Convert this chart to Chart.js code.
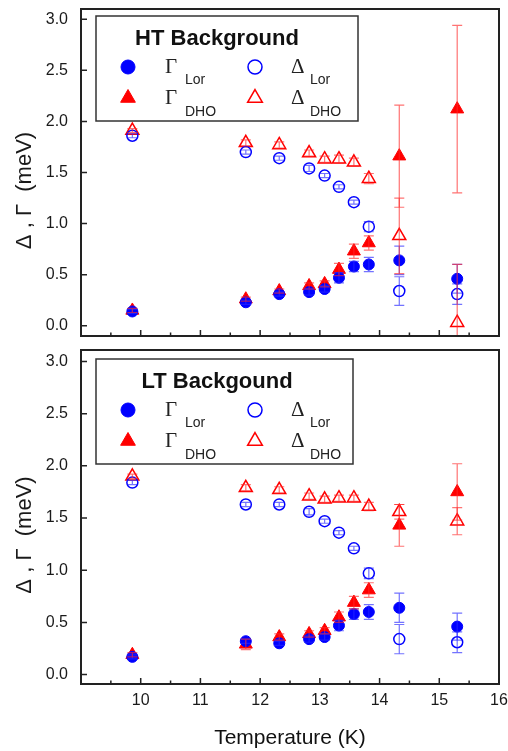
<!DOCTYPE html>
<html>
<head>
<meta charset="utf-8">
<script src="https://cdn.jsdelivr.net/npm/chart.js@4.4.1/dist/chart.umd.min.js"></script>
<style>
  html, body { margin: 0; padding: 0; background: #fff; }
  #wrap { position: relative; width: 508px; height: 751px; }
  canvas { position: absolute; left: 0; }
  #top { top: 0; }
  #bot { top: 341px; }
</style>
</head>
<body>
<div id="wrap">
  <canvas id="top" width="508" height="345"></canvas>
  <canvas id="bot" width="508" height="410"></canvas>
</div>
<script>
// temperatures (K), shared by both panels
const temps = [9.86, 11.76, 12.32, 12.82, 13.08, 13.32, 13.57, 13.82, 14.33, 15.30];

// HT background fits
const htGammaLor    = [0.14, 0.23, 0.31, 0.33, 0.36, 0.47, 0.58, 0.60, 0.64, 0.46];
const htGammaLorErr = [0.02, 0.02, 0.02, 0.03, 0.03, 0.05, 0.05, 0.07, 0.14, 0.14];
const htDeltaLor    = [1.86, 1.70, 1.64, 1.54, 1.47, 1.36, 1.21, 0.97, 0.34, 0.31];
const htDeltaLorErr = [0.02, 0.02, 0.02, 0.03, 0.02, 0.02, 0.02, 0.05, 0.14, 0.10];
const htGammaDho    = [0.15, 0.26, 0.34, 0.39, 0.41, 0.55, 0.73, 0.81, 1.66, 2.12];
const htGammaDhoErr = [0.02, 0.02, 0.02, 0.03, 0.03, 0.06, 0.07, 0.07, 0.50, 0.82];
const htDeltaDho    = [1.91, 1.79, 1.77, 1.69, 1.63, 1.63, 1.60, 1.44, 0.88, 0.03];
const htDeltaDhoErr = [0.02, 0.03, 0.03, 0.03, 0.03, 0.04, 0.04, 0.05, 0.37, 0.57];

// LT background fits
const ltGammaLor    = [0.17, 0.32, 0.30, 0.34, 0.36, 0.47, 0.58, 0.60, 0.64, 0.46];
const ltGammaLorErr = [0.02, 0.02, 0.02, 0.03, 0.03, 0.05, 0.05, 0.07, 0.14, 0.13];
const ltDeltaLor    = [1.84, 1.63, 1.63, 1.56, 1.47, 1.36, 1.21, 0.97, 0.34, 0.31];
const ltDeltaLorErr = [0.02, 0.02, 0.02, 0.03, 0.02, 0.02, 0.02, 0.05, 0.14, 0.10];
const ltGammaDho    = [0.19, 0.29, 0.36, 0.39, 0.42, 0.55, 0.69, 0.81, 1.43, 1.75];
const ltGammaDhoErr = [0.02, 0.05, 0.03, 0.03, 0.03, 0.05, 0.06, 0.07, 0.20, 0.27];
const ltDeltaDho    = [1.90, 1.79, 1.77, 1.71, 1.68, 1.69, 1.69, 1.61, 1.56, 1.47];
const ltDeltaDhoErr = [0.02, 0.03, 0.03, 0.03, 0.03, 0.03, 0.03, 0.04, 0.07, 0.13];

// ticks and labels
const xTickValues = [10, 11, 12, 13, 14, 15, 16];
const xMinorTicks = [9.5, 10.5, 11.5, 12.5, 13.5, 14.5, 15.5];
const yTickValues = [0, 0.5, 1.0, 1.5, 2.0, 2.5, 3.0];
const seriesSymbols = ['Γ', 'Δ', 'Γ', 'Δ'];
const seriesSubs = ['Lor', 'Lor', 'DHO', 'DHO'];

const BLUE = '#0000ff';
const RED = '#ff0000';
const SANS = '"Liberation Sans", Arial, sans-serif';
const SERIF = '"Liberation Serif", "Times New Roman", serif';

Chart.defaults.font.family = SANS;
Chart.defaults.color = '#1a1a1a';

const pts = (ys) => temps.map((t, i) => ({ x: t, y: ys[i] }));

function makeSets(gl, glE, dl, dlE, gd, gdE, dd, ddE) {
  // index 0 is painted last, so the filled circles sit on top
  return [
    { data: pts(gl), err: glE, pointStyle: 'circle', pointRadius: 5.5, backgroundColor: BLUE, borderColor: BLUE, borderWidth: 1, errColor: 'rgba(40,40,255,0.65)' },
    { data: pts(dl), err: dlE, pointStyle: 'circle', pointRadius: 5.5, backgroundColor: 'rgba(0,0,0,0)', borderColor: BLUE, borderWidth: 1.5, errColor: 'rgba(40,40,255,0.65)' },
    { data: pts(gd), err: gdE, pointStyle: 'triangle', pointRadius: 7.5, backgroundColor: RED, borderColor: RED, borderWidth: 1, errColor: 'rgba(255,40,40,0.65)' },
    { data: pts(dd), err: ddE, pointStyle: 'triangle', pointRadius: 7.5, backgroundColor: 'rgba(0,0,0,0)', borderColor: RED, borderWidth: 1.5, errColor: 'rgba(255,40,40,0.65)' }
  ];
}

// vertical error bars with caps
const errorBars = {
  id: 'errorBars',
  afterDatasetsDraw(chart) {
    const { ctx, chartArea: a, scales: { x, y } } = chart;
    ctx.save();
    ctx.beginPath();
    ctx.rect(a.left, a.top, a.right - a.left, a.bottom - a.top);
    ctx.clip();
    ctx.lineWidth = 1.2;
    chart.data.datasets.forEach(ds => {
      ctx.strokeStyle = ds.errColor;
      ctx.beginPath();
      ds.data.forEach((p, i) => {
        const e = ds.err[i];
        const px = x.getPixelForValue(p.x);
        const y1 = y.getPixelForValue(p.y + e);
        const y2 = y.getPixelForValue(p.y - e);
        ctx.moveTo(px, y1); ctx.lineTo(px, y2);
        ctx.moveTo(px - 5, y1); ctx.lineTo(px + 5, y1);
        ctx.moveTo(px - 5, y2); ctx.lineTo(px + 5, y2);
      });
      ctx.stroke();
    });
    ctx.restore();
  }
};

// box frame, inward ticks, rotated y title
const frame = {
  id: 'frame',
  afterDraw(chart, args, opts) {
    const { ctx, chartArea: a, scales: { x, y } } = chart;
    ctx.save();
    ctx.strokeStyle = '#222';
    ctx.lineWidth = 2;
    ctx.strokeRect(a.left, a.top, a.right - a.left, a.bottom - a.top);
    ctx.lineWidth = 1.5;
    ctx.beginPath();
    xTickValues.forEach(v => { const px = x.getPixelForValue(v); ctx.moveTo(px, a.bottom); ctx.lineTo(px, a.bottom - 6); });
    xMinorTicks.forEach(v => { const px = x.getPixelForValue(v); ctx.moveTo(px, a.bottom); ctx.lineTo(px, a.bottom - 3.5); });
    yTickValues.forEach(v => { const py = y.getPixelForValue(v); ctx.moveTo(a.left, py); ctx.lineTo(a.left + 6, py); });
    ctx.stroke();

    ctx.translate(25, (a.top + a.bottom) / 2 + 18);
    ctx.rotate(-Math.PI / 2);
    ctx.fillStyle = '#1a1a1a';
    ctx.font = '22px ' + SANS;
    ctx.textAlign = 'center';
    ctx.textBaseline = 'middle';
    ctx.fillText('Δ , Γ  (meV)', 0, 0);
    ctx.restore();
  }
};

function marker(ctx, ds, cx, cy, r) {
  ctx.beginPath();
  if (ds.pointStyle === 'circle') {
    ctx.arc(cx, cy, r, 0, Math.PI * 2);
  } else {
    for (let k = 0; k < 3; k++) {
      const ang = k * 2 * Math.PI / 3;
      const px = cx + Math.sin(ang) * r, py = cy - Math.cos(ang) * r;
      k === 0 ? ctx.moveTo(px, py) : ctx.lineTo(px, py);
    }
    ctx.closePath();
  }
  ctx.fillStyle = ds.backgroundColor;
  ctx.fill();
  ctx.strokeStyle = ds.borderColor;
  ctx.lineWidth = ds.borderWidth;
  ctx.stroke();
}

// boxed legend with title and subscripted labels
const boxLegend = {
  id: 'boxLegend',
  afterDraw(chart, args, opts) {
    const { ctx, chartArea: a } = chart;
    const bx = 96, by = a.top + opts.dy, bw = opts.w, bh = 105;
    ctx.save();
    ctx.fillStyle = '#fff';
    ctx.fillRect(bx, by, bw, bh);
    ctx.strokeStyle = '#333';
    ctx.lineWidth = 1.5;
    ctx.strokeRect(bx, by, bw, bh);

    ctx.fillStyle = '#111';
    ctx.font = 'bold 22px ' + SANS;
    ctx.textAlign = 'center';
    ctx.textBaseline = 'alphabetic';
    ctx.fillText(opts.title, bx + 121, by + 29);

    chart.data.datasets.forEach((ds, i) => {
      const col = i % 2, row = Math.floor(i / 2);
      const mx = bx + 32 + col * 127;
      const my = by + 51 + row * 31;
      marker(ctx, ds, mx, my, ds.pointStyle === 'circle' ? 7 : 8.5);
      ctx.fillStyle = '#222';
      ctx.textAlign = 'left';
      ctx.font = '21px ' + SERIF;
      ctx.fillText(seriesSymbols[i], bx + 69 + col * 126, by + 57 + row * 31);
      ctx.font = '14px ' + SANS;
      ctx.fillText(seriesSubs[i], bx + 89 + col * 125, by + 68 + row * 32);
    });
    ctx.restore();
  }
};

function panel(id, datasets, yMin, yMax, title, isBottom) {
  return new Chart(document.getElementById(id), {
    type: 'scatter',
    data: { datasets },
    options: {
      responsive: false,
      animation: false,
      layout: { padding: { left: 0, right: 8, top: isBottom ? 2 : 4, bottom: 0 } },
      plugins: {
        legend: { display: false },
        tooltip: { enabled: false },
        boxLegend: { title, dy: isBottom ? 9 : 7, w: isBottom ? 257 : 262 }
      },
      scales: {
        x: {
          type: 'linear', min: 9, max: 16,
          grid: { display: false, drawTicks: false },
          border: { display: false },
          afterBuildTicks: s => { s.ticks = xTickValues.map(v => ({ value: v })); },
          ticks: { display: isBottom, padding: 7, font: { size: 16 }, color: '#1a1a1a' },
          title: { display: isBottom, text: 'Temperature (K)', font: { size: 21 }, color: '#111', padding: { top: 10, bottom: 0 } },
          afterFit: s => { s.height = isBottom ? 67 : 2; s.paddingLeft = 0; s.paddingRight = 0; }
        },
        y: {
          type: 'linear', min: yMin, max: yMax,
          grid: { display: false, drawTicks: false },
          border: { display: false },
          afterBuildTicks: s => { s.ticks = yTickValues.map(v => ({ value: v })); },
          ticks: { padding: 13, font: { size: 16 }, color: '#1a1a1a', callback: v => v.toFixed(1) },
          afterFit: s => { s.width = 81; s.paddingTop = 0; s.paddingBottom = 0; }
        }
      }
    },
    plugins: [errorBars, frame, boxLegend]
  });
}

panel('top', makeSets(htGammaLor, htGammaLorErr, htDeltaLor, htDeltaLorErr, htGammaDho, htGammaDhoErr, htDeltaDho, htDeltaDhoErr),
  -0.1, 3.1, 'HT Background', false);
panel('bot', makeSets(ltGammaLor, ltGammaLorErr, ltDeltaLor, ltDeltaLorErr, ltGammaDho, ltGammaDhoErr, ltDeltaDho, ltDeltaDhoErr),
  -0.09, 3.11, 'LT Backgound', true);
</script>
</body>
</html>
